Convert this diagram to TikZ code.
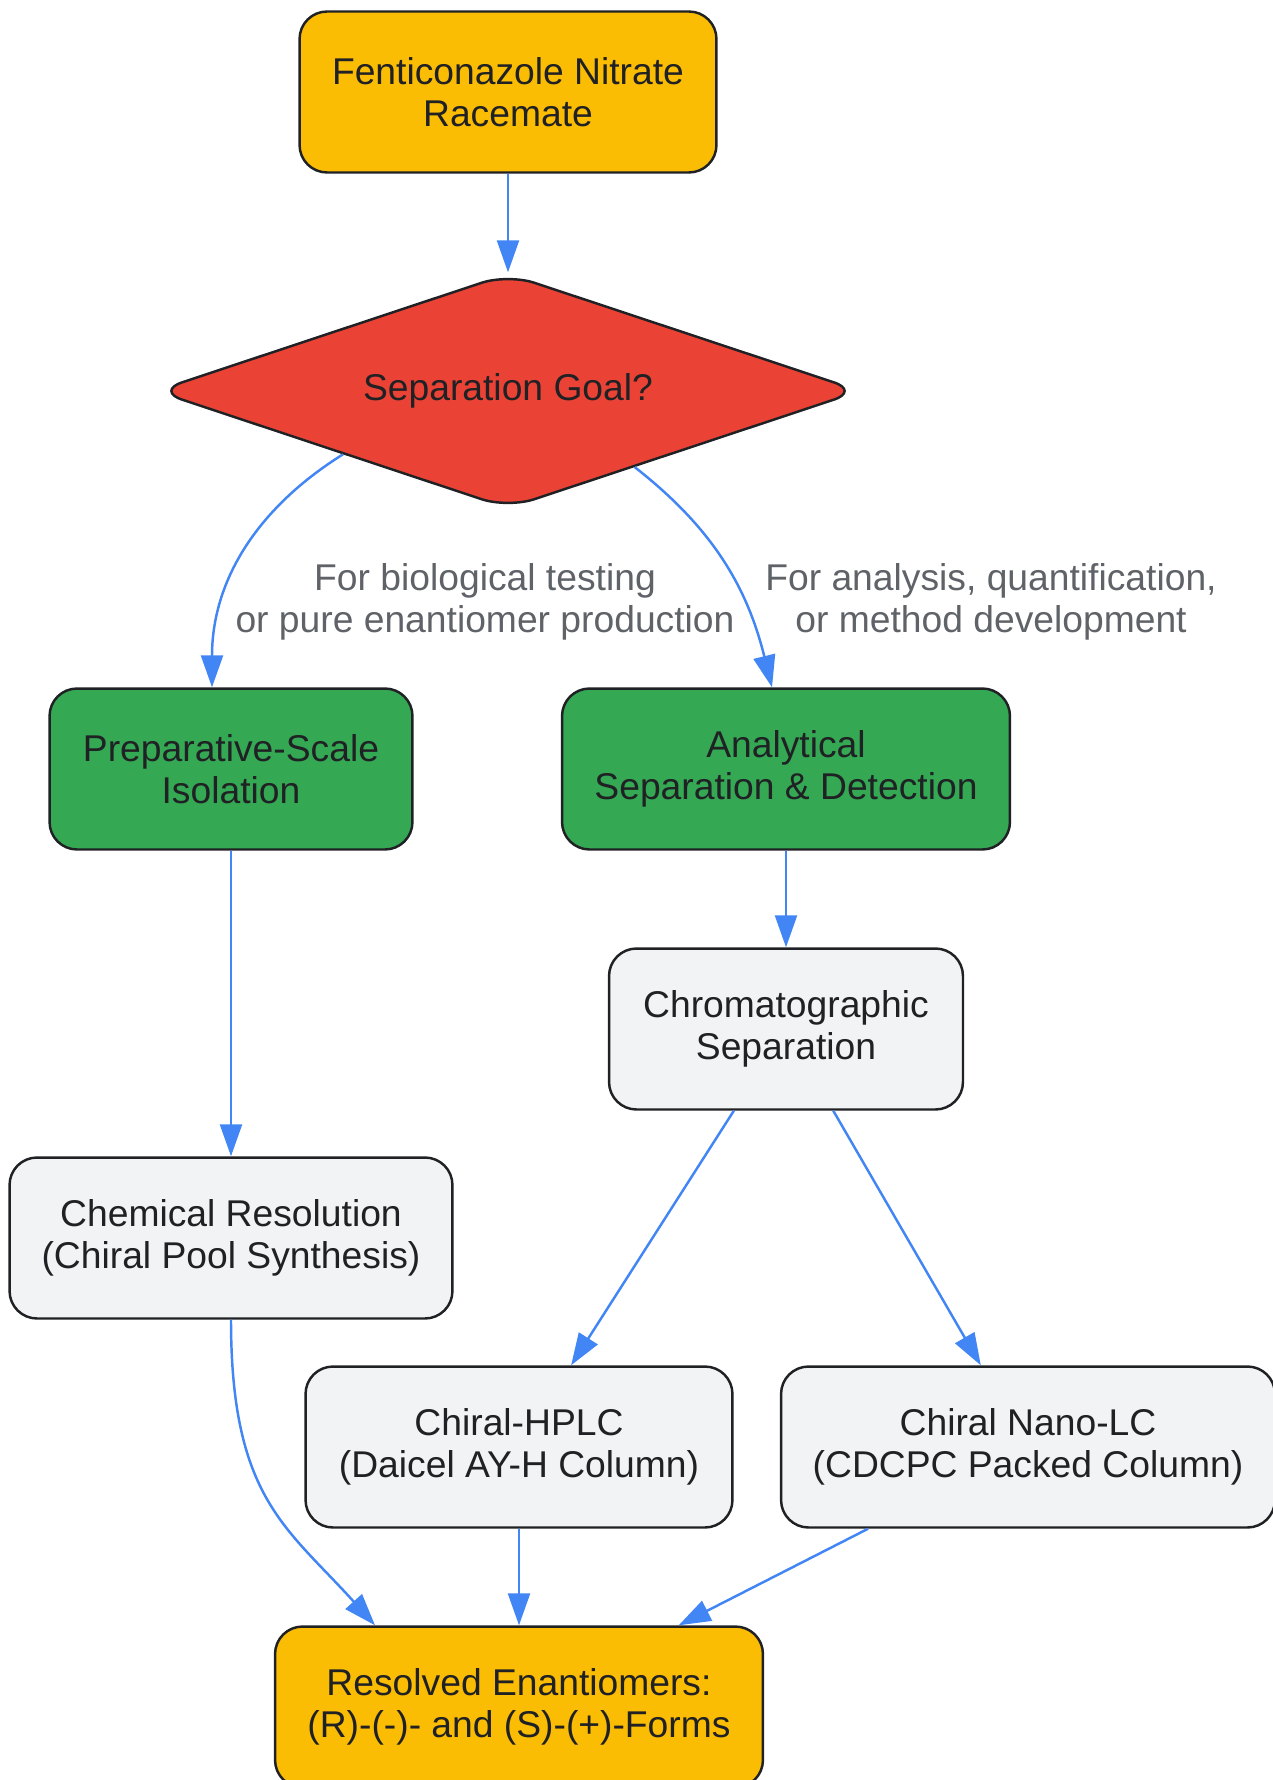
\documentclass[tikz,border=0pt]{standalone}
\usepackage{fontspec}
\setmainfont{Liberation Sans}
\usetikzlibrary{arrows.meta}
\usetikzlibrary{shapes.geometric}

\definecolor{amber}{HTML}{FBBC04}
\definecolor{tomato}{HTML}{EA4335}
\definecolor{leaf}{HTML}{34A853}
\definecolor{mist}{HTML}{F1F3F4}
\definecolor{ink}{HTML}{202124}
\definecolor{slate}{HTML}{5F6368}
\definecolor{link}{HTML}{4285F4}

\tikzset{
  box/.style={draw=ink, line width=1.4pt, rounded corners=0.55cm, minimum height=3.22cm,
    align=center, text=ink, font=\fontsize{21.2}{23.9}\selectfont},
  decision/.style={box, shape=diamond, aspect=3.02, inner sep=0pt, rounded corners=0.55cm,
    minimum width=14.1cm, minimum height=4.7cm},
  edge/.style={draw=link, line width=1.4pt, -{Triangle[length=0.64cm,width=0.44cm]}},
  lbl/.style={align=center, text=slate, font=\fontsize{21.2}{23.9}\selectfont}
}

\begin{document}
\begin{tikzpicture}[x=0.02cm, y=-0.02cm]
              \useasboundingbox (0,0) rectangle (1273,1780);

              \node[box, fill=amber, minimum width=8.34cm] (racemate) at (508, 92) {Fenticonazole Nitrate\\Racemate};
              \node[decision, fill=tomato] (goal) at (508, 391) {Separation Goal?};
              \node[box, fill=leaf, minimum width=7.26cm] (prep) at (231, 769) {Preparative-Scale\\Isolation};
              \node[box, fill=leaf, minimum width=8.96cm] (anal) at (786, 769) {Analytical\\Separation \& Detection};
              \node[box, fill=mist, minimum width=7.08cm] (chrom) at (786, 1029) {Chromatographic\\Separation};
              \node[box, fill=mist, minimum width=8.86cm] (chem) at (231, 1238) {Chemical Resolution\\(Chiral Pool Synthesis)};
              \node[box, fill=mist, minimum width=8.54cm] (hplc) at (519, 1447) {Chiral-HPLC\\(Daicel AY-H Column)};
              \node[box, fill=mist, minimum width=9.88cm] (nano) at (1028, 1447) {Chiral Nano-LC\\(CDCPC Packed Column)};
              \node[box, fill=amber, minimum width=9.76cm] (resolved) at (519, 1707) {Resolved Enantiomers:\\(R)-(-)- and (S)-(+)-Forms};

              \node[lbl] (biolbl) at (485, 602) {For biological testing\\or pure enantiomer production};
              \node[lbl] (analbl) at (991, 602) {For analysis, quantification,\\or method development};

              \draw[edge] (racemate) -- (goal);
              \draw[edge] (goal.201) to[out=212,in=90] ([xshift=-0.38cm]prep.north);
              \draw[edge] (goal.-31) to[out=-38,in=104] ([xshift=-0.28cm]anal.north);
              \draw[edge] (prep) -- (chem);
              \draw[edge] (anal) -- (chrom);
              \draw[edge] (chrom) -- (hplc);
              \draw[edge] (chrom) -- (nano);
              \draw[edge] (chem.south) to[out=-90,in=132,out looseness=1.35] ([xshift=-2.88cm]resolved.north);
              \draw[edge] (hplc) -- (resolved);
              \draw[edge] (nano) -- (resolved);
            \end{tikzpicture}
\end{document}
